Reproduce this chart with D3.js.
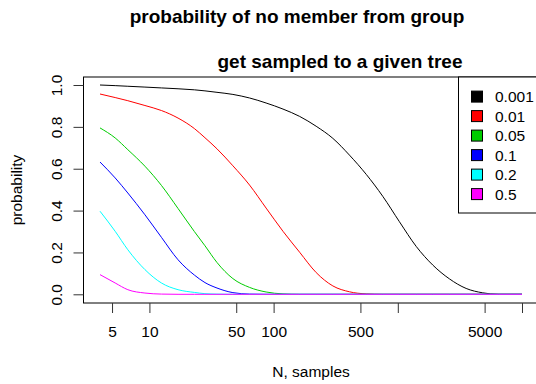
<!DOCTYPE html>
<html>
<head>
<meta charset="utf-8">
<script src="https://cdn.jsdelivr.net/npm/d3@7"></script>
<style>
  body { margin: 0; background: #fff; }
  svg { display: block; }
  text { font-family: "Liberation Sans", Arial, sans-serif; fill: #000; }
</style>
</head>
<body>
<svg id="chart" width="536" height="384"></svg>
<script>
// Sample sizes (N) at which the probability is tabulated
const nSamples = [4, 5.3, 6.7, 9.2, 12.5, 17, 23, 28, 35, 47, 64, 87, 119, 162, 220, 300, 408, 557, 757, 1030, 1410, 1910, 2600, 3550, 4830, 6500, 10000];

// Group fractions and their colours
const groupLabels = ["0.001", "0.01", "0.05", "0.1", "0.2", "0.5"];
const groupColors = ["#000000", "#FF0000", "#00CD00", "#0000FF", "#00FFFF", "#FF00FF"];

// Probability that no group member is sampled, one array per group fraction
const probG0001 = [1.0, 0.997, 0.994, 0.990, 0.986, 0.982, 0.977, 0.972, 0.965, 0.955, 0.938, 0.914, 0.885, 0.850, 0.803, 0.745, 0.665, 0.573, 0.468, 0.347, 0.228, 0.140, 0.074, 0.028, 0.007, 0, 0];
const probG001  = [0.957, 0.940, 0.925, 0.902, 0.878, 0.842, 0.792, 0.748, 0.695, 0.614, 0.522, 0.412, 0.301, 0.201, 0.104, 0.040, 0.012, 0.002, 0, 0, 0, 0, 0, 0, 0, 0, 0];
const probG005  = [0.795, 0.747, 0.691, 0.612, 0.520, 0.410, 0.300, 0.232, 0.152, 0.075, 0.033, 0.011, 0.002, 0, 0, 0, 0, 0, 0, 0, 0, 0, 0, 0, 0, 0, 0];
const probG01   = [0.632, 0.556, 0.484, 0.380, 0.272, 0.165, 0.092, 0.056, 0.030, 0.008, 0.001, 0, 0, 0, 0, 0, 0, 0, 0, 0, 0, 0, 0, 0, 0, 0, 0];
const probG02   = [0.397, 0.301, 0.213, 0.118, 0.054, 0.022, 0.009, 0.003, 0.001, 0, 0, 0, 0, 0, 0, 0, 0, 0, 0, 0, 0, 0, 0, 0, 0, 0, 0];
const probG05   = [0.094, 0.054, 0.022, 0.006, 0.001, 0, 0, 0, 0, 0, 0, 0, 0, 0, 0, 0, 0, 0, 0, 0, 0, 0, 0, 0, 0, 0, 0];
const seriesValues = [probG0001, probG001, probG005, probG01, probG02, probG05];

// Axis ticks (labels left empty where they would collide)
const xTickValues = [5, 10, 50, 100, 500, 1000, 5000, 10000];
const xTickLabels = ["5", "10", "50", "100", "500", "", "5000", ""];
const yTickValues = [0, 0.2, 0.4, 0.6, 0.8, 1.0];

const svg = d3.select("#chart");

// Data area and the surrounding frame (frame adds 4% padding on each side)
const dataLeft = 100, dataRight = 522, dataTop = 85, dataBottom = 294.3;
const boxLeft = 83.5, boxRight = 539, boxTop = 77, boxBottom = 303;

const x = d3.scaleLog().domain([4, 10000]).range([dataLeft, dataRight]);
const y = d3.scaleLinear().domain([0, 1]).range([dataBottom, dataTop]);

// Curves
const line = d3.line()
  .x((d, i) => x(nSamples[i]))
  .y(d => y(d))
  .curve(d3.curveMonotoneX);

svg.append("g")
  .selectAll("path")
  .data(seriesValues)
  .join("path")
  .attr("d", d => line(d))
  .attr("fill", "none")
  .attr("stroke", (d, i) => groupColors[i])
  .attr("stroke-width", 1);

// Frame
svg.append("rect")
  .attr("x", boxLeft).attr("y", boxTop)
  .attr("width", boxRight - boxLeft).attr("height", boxBottom - boxTop)
  .attr("fill", "none").attr("stroke", "#000").attr("stroke-width", 1);

// X axis
const xAxis = d3.axisBottom(x)
  .tickValues(xTickValues)
  .tickFormat((d, i) => xTickLabels[i])
  .tickSizeInner(10).tickSizeOuter(0).tickPadding(13);
const gx = svg.append("g").attr("transform", `translate(0,${boxBottom})`).call(xAxis);
gx.select(".domain").remove();
gx.selectAll("line").attr("stroke", "#333");
gx.selectAll("text").attr("font-size", "15.5px").attr("font-family", "Liberation Sans, Arial, sans-serif").attr("fill", "#000");

// Y axis (labels rotated to read upward)
const yAxis = d3.axisLeft(y)
  .tickValues(yTickValues)
  .tickFormat(d3.format(".1f"))
  .tickSizeInner(10).tickSizeOuter(0);
const gy = svg.append("g").attr("transform", `translate(${boxLeft},0)`).call(yAxis);
gy.select(".domain").remove();
gy.selectAll("line").attr("stroke", "#333");
gy.selectAll("text")
  .attr("font-size", "15.5px")
  .attr("font-family", "Liberation Sans, Arial, sans-serif")
  .attr("fill", "#000")
  .attr("x", null).attr("dy", null)
  .attr("text-anchor", "middle")
  .attr("transform", "translate(-21.5,0) rotate(-90)");

// Titles
svg.append("text")
  .attr("x", 297).attr("y", 23)
  .attr("text-anchor", "middle")
  .attr("font-size", "19px").attr("font-weight", "bold")
  .text("probability of no member from group");
svg.append("text")
  .attr("x", 340).attr("y", 68)
  .attr("text-anchor", "middle")
  .attr("font-size", "19px").attr("font-weight", "bold")
  .text("get sampled to a given tree");

svg.append("text")
  .attr("x", 311).attr("y", 377)
  .attr("text-anchor", "middle")
  .attr("font-size", "15.5px")
  .text("N, samples");

svg.append("text")
  .attr("transform", "translate(22,190) rotate(-90)")
  .attr("text-anchor", "middle")
  .attr("font-size", "15.5px")
  .text("probability");

// Legend
const legendLeft = 458.5, legendTop = boxTop, legendBottom = 213;
svg.append("rect")
  .attr("x", legendLeft).attr("y", legendTop)
  .attr("width", boxRight - legendLeft).attr("height", legendBottom - legendTop)
  .attr("fill", "#fff").attr("stroke", "#000").attr("stroke-width", 1);

const legendRows = svg.append("g")
  .selectAll("g")
  .data(groupLabels)
  .join("g")
  .attr("transform", (d, i) => `translate(0,${96.6 + i * 19.5})`);
legendRows.append("rect")
  .attr("x", 471.5).attr("y", -5.5)
  .attr("width", 11).attr("height", 11)
  .attr("fill", (d, i) => groupColors[i])
  .attr("stroke", "#000").attr("stroke-width", 1);
legendRows.append("text")
  .attr("x", 495).attr("y", 5.5)
  .attr("font-size", "15.5px")
  .text(d => d);
</script>
</body>
</html>
